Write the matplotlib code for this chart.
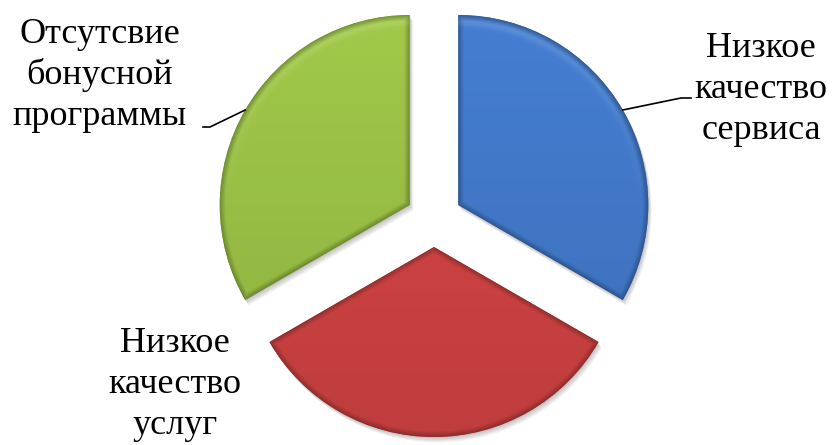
import numpy as np
import matplotlib
matplotlib.use("Agg")
import matplotlib.pyplot as plt
from matplotlib.patches import Wedge
from matplotlib.colors import to_rgb
from matplotlib.font_manager import FontProperties, findfont

labels = ["Низкое\nкачество\nсервиса", "Низкое\nкачество\nуслуг", "Отсутсвие\nбонусной\nпрограммы"]
values = [1, 1, 1]
colors = ["#4177c6", "#cb4141", "#98be45"]

W, H = 834, 445
fig = plt.figure(figsize=(W / 100, H / 100), dpi=100)
ax = fig.add_axes([0, 0, 1, 1])

wedges, _ = ax.pie(values, colors=colors, startangle=90, counterclock=False,
                   radius=190, center=(434, 226), explode=[28] * 3,
                   wedgeprops=dict(linewidth=0))
ax.set_xlim(0, W)
ax.set_ylim(0, H)
ax.set_aspect("equal")
ax.axis("off")

# soft drop shadow under each slice
for w in wedges:
    cx, cy = w.center
    for k in range(1, 8):
        sh = Wedge((cx + 0.5 * k, cy - 0.8 * k), w.r, w.theta1, w.theta2,
                   facecolor="black", edgecolor="none", alpha=0.035, zorder=0)
        ax.add_patch(sh)

# bevel-like shading: darker along the borders, lighter toward the top
xx, yy = np.meshgrid(np.arange(W) + 0.5, np.arange(H) + 0.5)
for w, c in zip(wedges, colors):
    cx, cy = w.center
    dx, dy = xx - cx, yy - cy
    dist = np.hypot(dx, dy)
    ang = np.degrees(np.arctan2(dy, dx))
    d_arc = w.r - dist
    e1 = np.abs(dist * np.sin(np.radians(ang - w.theta1)))
    e2 = np.abs(dist * np.sin(np.radians(ang - w.theta2)))
    edge = np.minimum(d_arc, np.minimum(e1, e2))
    shade = 0.72 + 0.28 * np.clip(edge / 6.0, 0, 1)
    rim = np.exp(-((d_arc - 7) / 4.0) ** 2) * np.clip(dy / w.r, 0, 1) * 0.12
    vert = 1.0 + 0.06 * (dy / w.r)
    base = np.array(to_rgb(c))
    img = base[None, None, :] * (shade * vert)[..., None]
    img = img + rim[..., None] * (1 - base[None, None, :])
    img = np.clip(img, 0, 1)
    im = ax.imshow(img, extent=(0, W, 0, H), origin="lower", zorder=2,
                   interpolation="bilinear")
    im.set_clip_path(w)
    w.set_zorder(1)

ax.set_xlim(0, W)
ax.set_ylim(0, H)

# leader lines from the middle of the arc to the labels
def arc_mid(w):
    t = np.radians((w.theta1 + w.theta2) / 2)
    cx, cy = w.center
    return cx + w.r * np.cos(t), cy + w.r * np.sin(t)

x0, y0 = arc_mid(wedges[0])
ax.plot([x0, 681, 691], [y0, H - 98, H - 98], color="black", lw=1.2, zorder=3)
x0, y0 = arc_mid(wedges[2])
ax.plot([x0, 210, 203], [y0, H - 127, H - 127], color="black", lw=1.2, zorder=3)

# Times-like serif, loaded straight from its file
serif = FontProperties(fname=findfont(FontProperties(family="Liberation Serif")), size=26)

# label centre x and first baseline (pixels from top), 42 px per line
for (x, y), txt in zip([(761, 57), (175, 352), (100, 43)], labels):
    for i, line in enumerate(txt.split("\n")):
        ax.text(x, H - y - 41 * i, line, ha="center", va="baseline",
                fontproperties=serif, color="black", zorder=4)

fig.savefig("out.png", dpi=100)
